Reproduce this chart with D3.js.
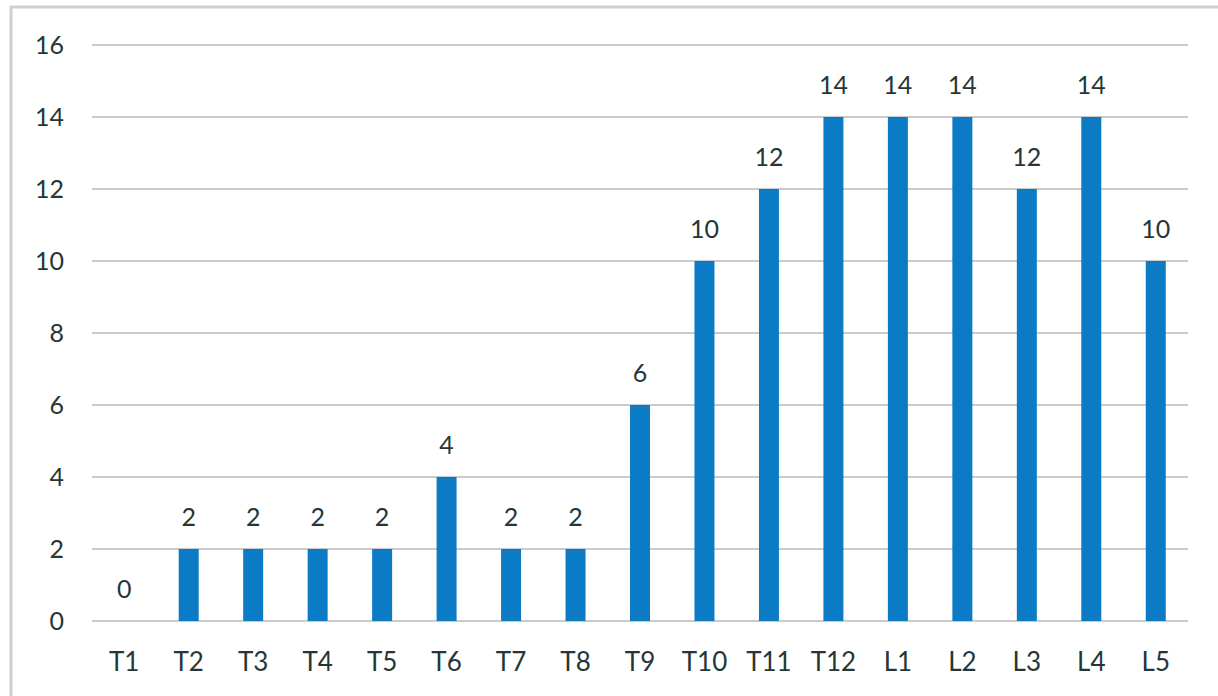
<!doctype html>
<html lang="en">
<head>
  <meta charset="utf-8">
  <title>Bar chart</title>
  <script src="https://cdn.jsdelivr.net/npm/d3@7/dist/d3.min.js"></script>
  <style>
    body { margin: 0; background: #fff; }
    svg text { font-family: Lato, "Open Sans", sans-serif; fill: #263636; }
    .grid line { stroke: #cbcbcb; stroke-width: 2px; }
  </style>
</head>
<body>
<div id="chart"></div>
<script>
  var categories = ["T1", "T2", "T3", "T4", "T5", "T6", "T7", "T8", "T9", "T10", "T11", "T12", "L1", "L2", "L3", "L4", "L5"];
  var values = [0, 2, 2, 2, 2, 4, 2, 2, 6, 10, 12, 14, 14, 14, 12, 14, 10];
  var yTicks = [0, 2, 4, 6, 8, 10, 12, 14, 16];

  var width = 1218, height = 696;
  var plotLeft = 92, plotRight = 1188, plotTop = 45, plotBottom = 621;

  var svg = d3.select("#chart").append("svg")
      .attr("width", width)
      .attr("height", height);

  // outer frame (runs off the right/bottom edge like the source)
  svg.append("rect")
      .attr("x", 11).attr("y", 7)
      .attr("width", width + 20).attr("height", height + 20)
      .attr("fill", "none")
      .attr("stroke", "#cfcfcf")
      .attr("stroke-width", 3);

  var x = d3.scaleBand()
      .domain(categories)
      .range([plotLeft, plotRight])
      .paddingInner(0.69)
      .paddingOuter(0.345);

  var y = d3.scaleLinear()
      .domain([0, 16])
      .range([plotBottom, plotTop]);

  // gridlines
  svg.append("g")
      .attr("class", "grid")
    .selectAll("line")
      .data(yTicks)
    .enter().append("line")
      .attr("x1", plotLeft).attr("x2", plotRight)
      .attr("y1", function(d) { return y(d); })
      .attr("y2", function(d) { return y(d); });

  // y labels
  svg.append("g")
    .selectAll("text")
      .data(yTicks)
    .enter().append("text")
      .attr("x", 64)
      .attr("y", function(d) { return y(d); })
      .attr("dy", "0.35em")
      .attr("text-anchor", "end")
      .attr("font-size", 25)
      .text(function(d) { return d; });

  // x labels
  svg.append("g")
    .selectAll("text")
      .data(categories)
    .enter().append("text")
      .attr("x", function(d) { return x(d) + x.bandwidth() / 2; })
      .attr("y", 662)
      .attr("dy", "0.35em")
      .attr("text-anchor", "middle")
      .attr("font-size", 26)
      .text(function(d) { return d; });

  var data = categories.map(function(c, i) { return {cat: c, val: values[i]}; });

  svg.append("g")
    .selectAll("rect")
      .data(data)
    .enter().append("rect")
      .attr("x", function(d) { return x(d.cat); })
      .attr("y", function(d) { return y(d.val); })
      .attr("width", x.bandwidth())
      .attr("height", function(d) { return y(0) - y(d.val); })
      .attr("fill", "#0b7bc6");

  // value labels
  svg.append("g")
    .selectAll("text")
      .data(data)
    .enter().append("text")
      .attr("x", function(d) { return x(d.cat) + x.bandwidth() / 2; })
      .attr("y", function(d) { return y(d.val) - 32; })
      .attr("dy", "0.35em")
      .attr("text-anchor", "middle")
      .attr("font-size", 25)
      .text(function(d) { return d.val; });
</script>
</body>
</html>
